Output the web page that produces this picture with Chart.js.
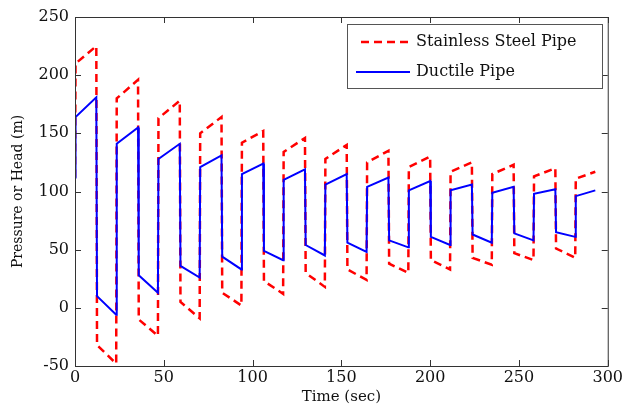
<!DOCTYPE html>
<html>
<head>
<meta charset="utf-8">
<script src="https://cdn.jsdelivr.net/npm/chart.js@4/dist/chart.umd.min.js"></script>
<style>
  html, body { margin: 0; padding: 0; background: #fff; }
  #wrap { width: 625px; height: 406px; }
</style>
</head>
<body>
<div id="wrap"><canvas id="my-chart"></canvas></div>
<script>
// * Pressure head vs time for two pipe materials (valve closure cycles)

const startValue = 112
const endTime = 293
const riseTimes = [0.3, 23.5, 47, 70.5, 94, 117.5, 141, 164.5, 188, 211.5, 235, 258.5, 282]
const dropTimes = [12, 35.5, 59, 82.5, 106, 129.5, 153, 176.5, 200, 223.5, 247, 270.5]

// Stainless steel pipe
const steelHighStart = [210, 180, 163, 150, 142, 134, 128, 125, 121, 117, 115, 113, 111]
const steelHighEnd = [225, 196, 178, 164, 152, 146, 140, 135, 130, 125, 123, 120, 117]
const steelLowStart = [-32, -10, 5, 13, 23, 30, 33, 38, 41, 43, 47, 51]
const steelLowEnd = [-48, -24, -9, 2, 12, 18, 24, 30, 33, 37, 41, 43]

// Ductile pipe
const ductileHighStart = [164, 141, 128, 121, 115, 110, 106, 104, 101, 101, 99, 98, 96]
const ductileHighEnd = [181, 155, 141, 131, 124, 119, 115, 112, 109, 106, 104, 102, 101]
const ductileLowStart = [10, 28, 36, 44, 49, 54, 56, 58, 61, 63, 64, 65]
const ductileLowEnd = [-6, 13, 26, 33, 41, 45, 48, 52, 54, 56, 58, 61]

const xTicks = [0, 50, 100, 150, 200, 250, 300]
const yTicks = [-50, 0, 50, 100, 150, 200, 250]

const fontFamily = '"DejaVu Serif", serif'

// build the points of one square-ish wave from the cycle arrays
function buildSeries(highStart, highEnd, lowStart, lowEnd) {
    const pts = [{ x: 0, y: startValue }]
    for (let i = 0; i < riseTimes.length; i++) {
        pts.push({ x: riseTimes[i], y: highStart[i] })
        if (i < dropTimes.length) {
            pts.push({ x: dropTimes[i], y: highEnd[i] })
            pts.push({ x: dropTimes[i] + 0.4, y: lowStart[i] })
            pts.push({ x: riseTimes[i + 1] - 0.3, y: lowEnd[i] })
        } else {
            pts.push({ x: endTime, y: highEnd[i] })
        }
    }
    return pts
}

// box around the plot, inward ticks, and the legend
const boxPlugin = {
    id: 'boxPlugin',
    afterDraw(chart) {
        const { ctx, chartArea: a, scales } = chart
        ctx.save()
        ctx.strokeStyle = '#333'
        ctx.lineWidth = 1
        ctx.strokeRect(a.left + 0.5, a.top + 0.5, a.right - a.left, a.bottom - a.top)
        ctx.beginPath()
        xTicks.forEach((v) => {
            const px = Math.round(scales.x.getPixelForValue(v)) + 0.5
            ctx.moveTo(px, a.bottom); ctx.lineTo(px, a.bottom - 6)
            ctx.moveTo(px, a.top); ctx.lineTo(px, a.top + 6)
        })
        yTicks.forEach((v) => {
            const py = Math.round(scales.y.getPixelForValue(v)) + 0.5
            ctx.moveTo(a.left, py); ctx.lineTo(a.left + 6, py)
            ctx.moveTo(a.right, py); ctx.lineTo(a.right - 6, py)
        })
        ctx.stroke()

        // legend
        ctx.fillStyle = '#fff'
        ctx.fillRect(347, 24, 255, 64)
        ctx.strokeStyle = '#555'
        ctx.strokeRect(347.5, 24.5, 255, 64)
        const ds = chart.data.datasets
        const rows = [
            { y: 42, x0: 361, x1: 408 },
            { y: 72, x0: 356, x1: 410 }
        ]
        ds.forEach((d, i) => {
            const r = rows[i]
            ctx.strokeStyle = d.borderColor
            ctx.lineWidth = d.borderWidth
            ctx.setLineDash(d.borderDash || [])
            ctx.beginPath()
            ctx.moveTo(r.x0, r.y); ctx.lineTo(r.x1, r.y)
            ctx.stroke()
            ctx.setLineDash([])
            ctx.fillStyle = '#111'
            ctx.font = '16px ' + fontFamily
            ctx.textBaseline = 'middle'
            ctx.fillText(d.label, 416, r.y)
        })
        ctx.restore()
    }
}

new Chart(document.getElementById('my-chart'), {
    type: 'line',
    data: {
        datasets: [
            {
                label: 'Stainless Steel Pipe',
                data: buildSeries(steelHighStart, steelHighEnd, steelLowStart, steelLowEnd),
                borderColor: '#ff0000',
                borderWidth: 2.5,
                borderDash: [8, 5],
                pointRadius: 0,
                tension: 0,
                order: 1
            },
            {
                label: 'Ductile Pipe',
                data: buildSeries(ductileHighStart, ductileHighEnd, ductileLowStart, ductileLowEnd),
                borderColor: '#0000ff',
                borderWidth: 2,
                pointRadius: 0,
                tension: 0,
                order: 0
            }
        ]
    },
    options: {
        responsive: true,
        maintainAspectRatio: false,
        animation: false,
        events: [],
        layout: { padding: { top: 17, right: 16, left: 0, bottom: 0 } },
        plugins: {
            legend: { display: false },
            tooltip: { enabled: false }
        },
        scales: {
            x: {
                type: 'linear',
                min: 0,
                max: 300,
                afterBuildTicks: (s) => { s.ticks = xTicks.map((v) => ({ value: v })) },
                afterFit: (s) => { s.height = 40 },
                grid: { display: false, drawTicks: false },
                border: { display: false },
                ticks: { color: '#111', font: { family: fontFamily, size: 16 }, padding: 2, maxRotation: 0 },
                title: { display: true, text: 'Time (sec)', color: '#111', font: { family: fontFamily, size: 15 }, padding: 0 }
            },
            y: {
                min: -50,
                max: 250,
                afterBuildTicks: (s) => { s.ticks = yTicks.map((v) => ({ value: v })) },
                afterFit: (s) => { s.width = 75 },
                grid: { display: false, drawTicks: false },
                border: { display: false },
                ticks: { color: '#111', font: { family: fontFamily, size: 16 }, padding: 6 },
                title: { display: true, text: 'Pressure or Head (m)', color: '#111', font: { family: fontFamily, size: 14 }, padding: { top: 10, bottom: 0 } }
            }
        }
    },
    plugins: [boxPlugin]
})
</script>
</body>
</html>
